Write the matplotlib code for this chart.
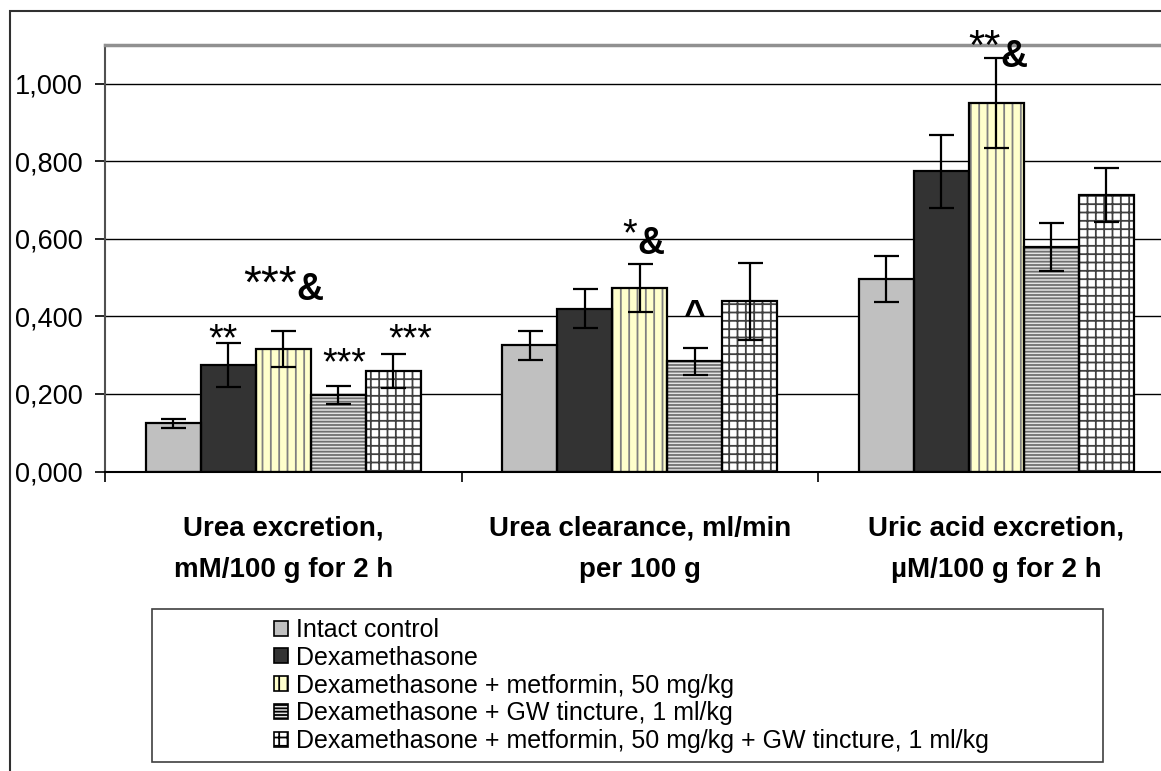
import matplotlib
matplotlib.use("Agg")
import matplotlib.pyplot as plt
import matplotlib.patches as mpatches
from matplotlib.ticker import FuncFormatter
import numpy as np

plt.rcParams['font.family'] = ['Liberation Sans', 'DejaVu Sans']
plt.rcParams['hatch.linewidth'] = 1.3

# data
categories = ["Urea excretion,\nmM/100 g for 2 h",
              "Urea clearance, ml/min\nper 100 g",
              "Uric acid excretion,\n\u00b5M/100 g for 2 h"]
groups = ["Intact control",
          "Dexamethasone",
          "Dexamethasone + metformin, 50 mg/kg",
          "Dexamethasone + GW tincture, 1 ml/kg",
          "Dexamethasone + metformin, 50 mg/kg + GW tincture, 1 ml/kg"]
intact = [0.124, 0.325, 0.496]
dexa = [0.274, 0.420, 0.774]
dexa_met = [0.316, 0.474, 0.950]
dexa_gw = [0.197, 0.284, 0.578]
dexa_met_gw = [0.259, 0.439, 0.713]
err_intact = [0.012, 0.037, 0.059]
err_dexa = [0.057, 0.050, 0.095]
err_dexa_met = [0.047, 0.062, 0.116]
err_dexa_gw = [0.023, 0.034, 0.062]
err_dexa_met_gw = [0.043, 0.100, 0.070]

values = [intact, dexa, dexa_met, dexa_gw, dexa_met_gw]
errors = [err_intact, err_dexa, err_dexa_met, err_dexa_gw, err_dexa_met_gw]

# style of each series: face, hatch, hatch colour
faces = ['#c0c0c0', '#333333', '#ffffcc', '#e4e4e4', '#ffffff']
hatches = [None, None, '||', '-----', '++']
hatch_cols = ['#c0c0c0', '#333333', '#808080', '#707070', '#404040']

fig = plt.figure(figsize=(11.61, 7.71), dpi=100)
W, H = 1161, 771
ax = fig.add_axes([105 / W, 1 - 471.5 / H, 1069.5 / W, 426.5 / H])

x = np.arange(len(categories)) + 0.5
bw = 0.154
for j in range(5):
    pos = x + (j - 2) * bw
    ax.bar(pos, values[j], bw, color=faces[j], edgecolor=hatch_cols[j],
           hatch=hatches[j], linewidth=0, zorder=2)
    ax.bar(pos, values[j], bw, fill=False, edgecolor='black', linewidth=1.6, zorder=3)
    ax.errorbar(pos, values[j], yerr=errors[j], fmt='none', ecolor='black',
                elinewidth=1.6, capsize=9, capthick=1.6, zorder=4)

ax.set_xlim(0, 3)
ax.set_ylim(0, 1.1)
ax.set_yticks(np.arange(0, 1.01, 0.2))
ax.yaxis.set_major_formatter(FuncFormatter(lambda v, p: f"{v:.3f}".replace('.', ',')))
ax.grid(axis='y', color='black', linewidth=1.0, zorder=0)
ax.set_axisbelow(True)
ax.set_xticks([0, 1, 2, 3])
ax.set_xticklabels([])
ax.set_xticks(x, minor=True)
ax.set_xticklabels(categories, minor=True, fontsize=20, fontweight='bold',
                   linespacing=1.75)
ax.tick_params(axis='x', which='minor', length=0, pad=32)
ax.tick_params(axis='x', which='major', length=7, width=1.2, direction='out')
ax.tick_params(axis='y', length=7, width=1.2, direction='out', labelsize=19.5, pad=9)
ax.spines['right'].set_visible(False)
ax.spines['top'].set_color('#909090')
ax.spines['top'].set_linewidth(2.5)
ax.spines['left'].set_color('#505050')
ax.spines['left'].set_linewidth(1.5)
ax.spines['bottom'].set_linewidth(1.5)

# significance marks
amp = dict(fontsize=27, fontweight='bold', va='center', ha='left', zorder=5)
ax.text(0.330, 0.339, "**", fontsize=27, ha='center', va='center')
ax.text(0.670, 0.276, "***", fontsize=27, ha='center', va='center')
ax.text(0.856, 0.339, "***", fontsize=27, ha='center', va='center')
ax.text(0.537, 0.480, "***", fontsize=33, ha='right', va='center')
ax.text(0.537, 0.468, "&", **amp)
ax.text(1.492, 0.608, "*", fontsize=27, ha='right', va='center')
ax.text(1.492, 0.586, "&", **amp)
ax.text(2.511, 1.092, "**", fontsize=30, ha='right', va='center')
ax.text(2.511, 1.070, "&", **amp)
ax.text(1.652, 0.372, "^", fontsize=27, fontweight='bold', ha='center', va='baseline')

# legend: box drawn separately, entries centred inside it
fig.add_artist(mpatches.Rectangle((152 / W, 1 - 762 / H), 951 / W, 153 / H,
                                  transform=fig.transFigure, fill=False,
                                  edgecolor='#404040', linewidth=1.2))
handles = [mpatches.Patch(facecolor=faces[j], edgecolor='black', hatch=hatches[j],
                          linewidth=1.2, label=groups[j]) for j in range(5)]
fig.legend(handles=handles, loc='center',
           bbox_to_anchor=(156 / W, 1 - 762 / H, 951 / W, 153 / H),
           fontsize=18, frameon=False, borderaxespad=0,
           handlelength=0.55, handleheight=0.55, handletextpad=0.35,
           labelspacing=0.15, borderpad=0.1)

# outer frame of the chart area
fig.add_artist(mpatches.Rectangle((10 / W, -0.1), 1.2, 1 - 11 / H + 0.1,
                                  transform=fig.transFigure, fill=False,
                                  edgecolor='#303030', linewidth=1.5))

fig.savefig("out.png", dpi=100)
